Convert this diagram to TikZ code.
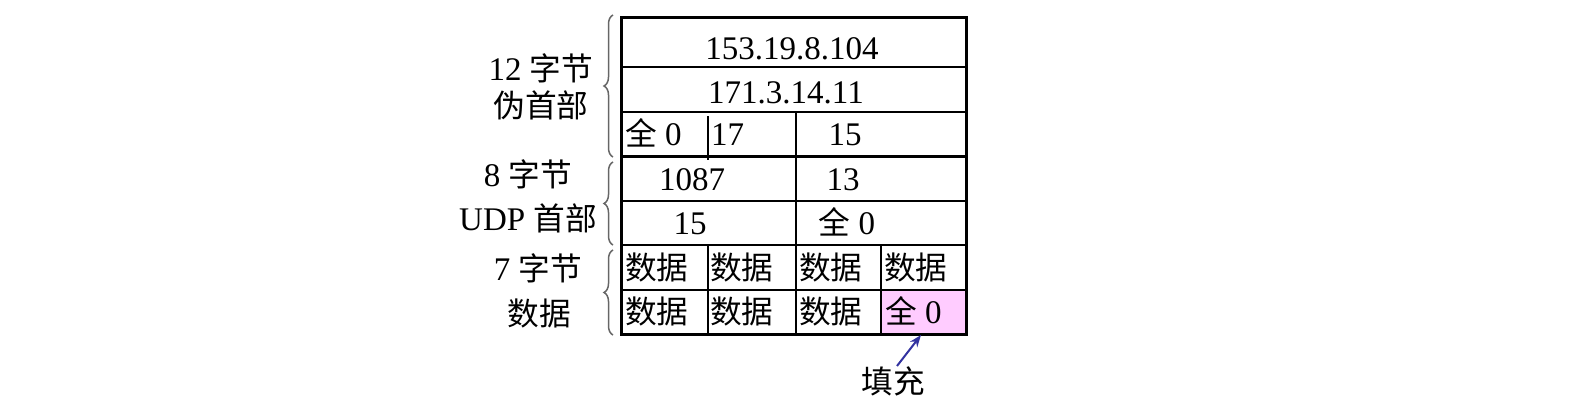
\documentclass[tikz,border=0pt]{standalone}
\usepackage{fontspec}
\setmainfont{Liberation Serif}
\newfontfamily\cjk[Scale=0.96]{Noto Sans CJK SC}
\usetikzlibrary{decorations.pathreplacing,arrows.meta}
\newcommand{\zh}[1]{{\cjk #1}}
\begin{document}
\begin{tikzpicture}[x=1pt,y=-1pt,
  txt/.style={inner sep=0pt, anchor=base, font=\fontsize{33}{38}\selectfont},
  ltxt/.style={txt, anchor=base west},
  lbl/.style={txt},
  thin/.style={line width=1.2pt, black},
  thick/.style={line width=3pt, black},
  bracestyle/.style={decorate, decoration={brace, amplitude=9pt}, line width=1.5pt, black!60},
  arrowstyle/.style={-{Stealth[length=12pt,width=9pt]}, line width=2pt, draw={rgb,255:red,50;green,50;blue,160}}
]
\useasboundingbox (0,0) rectangle (1573,408);
% pink cell
\fill[fill={rgb,255:red,255;green,204;blue,255}] (881,290) rectangle (966,334);
\node[inner sep=0pt, minimum width=85pt, minimum height=44pt, anchor=north west] (pink) at (881,290) {};
% inner thin lines
\draw[thin] (621,67) -- (966,67);
\draw[thin] (621,112) -- (966,112);
\draw[thin] (621,201) -- (966,201);
\draw[thin] (621,245) -- (966,245);
\draw[thin] (621,290) -- (966,290);
\draw[thin] (708,116) -- (708,160);
\draw[thin] (796,112) -- (796,245);
\draw[thin] (708,245) -- (708,334);
\draw[thin] (796,245) -- (796,336);
\draw[thin] (881,245) -- (881,334);
% thick lines
\draw[thick] (621,156) -- (966,156);
\draw[thick] (621,17) rectangle (966,334);
% cell texts
\node[txt] (a1) at (792,59) {153.19.8.104};
\node[txt] (a2) at (786,103) {171.3.14.11};
\node[ltxt] (b1) at (625,145) {\zh{全} 0};
\node[ltxt] (b2) at (711,145) {17};
\node[txt] (b3) at (845,145) {15};
\node[txt] (c1) at (692,190) {1087};
\node[txt] (c2) at (843,190) {13};
\node[txt] (d1) at (690,234) {15};
\node[txt] (d2) at (847,234) {\zh{全} 0};
\node[ltxt] (e1) at (625,279) {\zh{数据}};
\node[ltxt] (e2) at (710,279) {\zh{数据}};
\node[ltxt] (e3) at (799,279) {\zh{数据}};
\node[ltxt] (e4) at (884,279) {\zh{数据}};
\node[ltxt] (f1) at (625,323) {\zh{数据}};
\node[ltxt] (f2) at (710,323) {\zh{数据}};
\node[ltxt] (f3) at (799,323) {\zh{数据}};
\node[ltxt] (f4) at (885,323) {\zh{全} 0};
% side labels
\node[lbl] (l1) at (541,80) {12 \zh{字节}};
\node[lbl] (l2) at (541,117) {\zh{伪首部}};
\node[lbl] (l3) at (528,186) {8 \zh{字节}};
\node[lbl] (l4) at (528,230) {UDP \zh{首部}};
\node[lbl] (l5) at (538,280) {7 \zh{字节}};
\node[lbl] (l6) at (539,325) {\zh{数据}};
% braces
\coordinate (br1b) at (613,157); \coordinate (br1t) at (613,15);
\coordinate (br2b) at (613,245); \coordinate (br2t) at (613,162);
\coordinate (br3b) at (613,335); \coordinate (br3t) at (613,250);
\draw[bracestyle] (br1b) -- (br1t);
\draw[bracestyle] (br2b) -- (br2t);
\draw[bracestyle] (br3b) -- (br3t);
% fill label and arrow
\node[txt] (fill) at (893,393) {\zh{填充}};
\coordinate (tail) at (897,366);
\coordinate (tip) at (921,335);
\draw[arrowstyle] (tail) -- (tip);
\end{tikzpicture}
\end{document}
